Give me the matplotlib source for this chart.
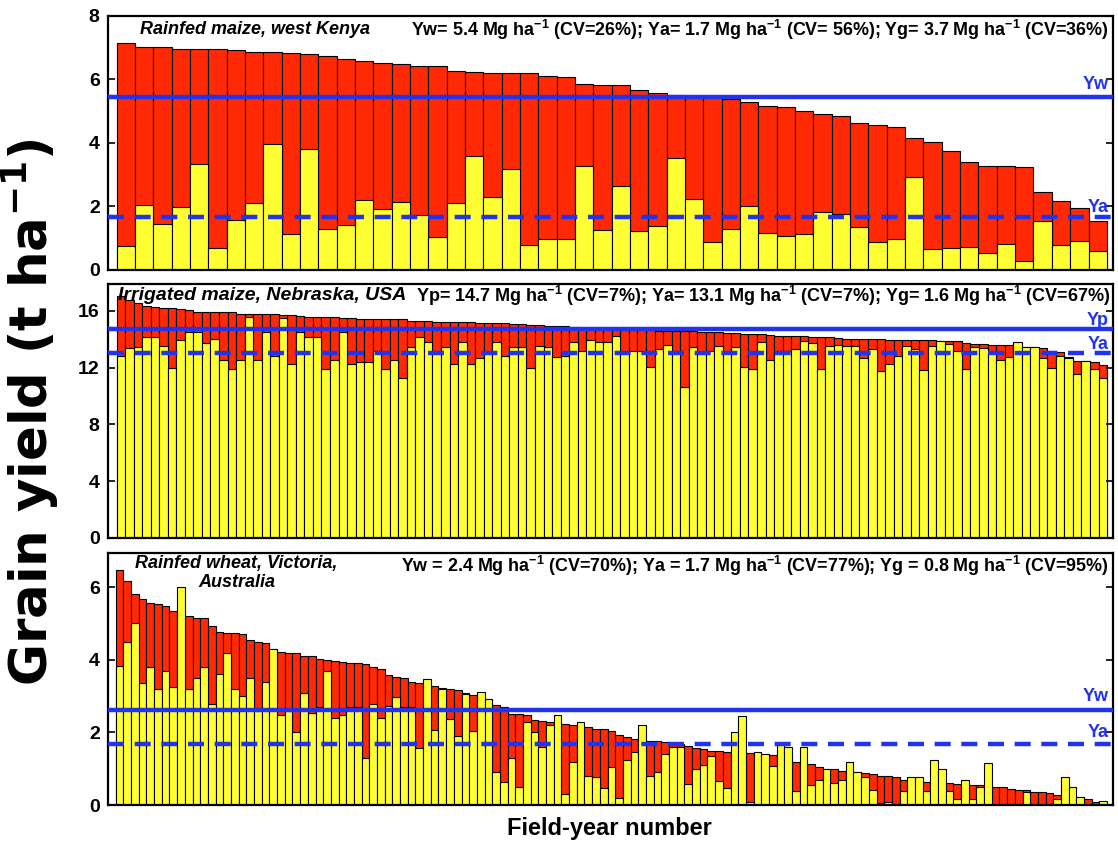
import numpy as np
import matplotlib
matplotlib.use("Agg")
import matplotlib.pyplot as plt

plt.rcParams['font.family'] = ['Liberation Sans', 'DejaVu Sans']
plt.rcParams['font.weight'] = 'bold'
plt.rcParams['mathtext.fontset'] = 'custom'
plt.rcParams['mathtext.rm'] = 'Liberation Sans:bold'
plt.rcParams['mathtext.bf'] = 'Liberation Sans:bold'
plt.rcParams['mathtext.it'] = 'Liberation Sans:bold:italic'
plt.rcParams['mathtext.default'] = 'bf'

RED = '#ff2a05'
YELLOW = '#ffff33'
BLUE = '#2233ee'

# rainfed maize, west Kenya (t/ha)
kenya_yw = [7.16, 7.03, 7.02, 6.97, 6.96, 6.95, 6.93, 6.86, 6.86, 6.83, 6.81, 6.75, 6.65, 6.58,
            6.53, 6.48, 6.43, 6.41, 6.27, 6.23, 6.21, 6.21, 6.21, 6.11, 6.07, 5.86, 5.83, 5.82,
            5.66, 5.58, 5.50, 5.47, 5.44, 5.38, 5.28, 5.18, 5.13, 5.01, 4.92, 4.85, 4.62, 4.57,
            4.51, 4.16, 4.02, 3.74, 3.40, 3.29, 3.27, 3.25, 2.45, 2.16, 1.94, 1.55]
kenya_ya = [0.76, 2.06, 1.44, 1.97, 3.35, 0.68, 1.58, 2.11, 3.98, 1.14, 3.81, 1.28, 1.41, 2.20,
            1.93, 2.14, 1.72, 1.04, 2.11, 3.58, 2.29, 3.17, 0.78, 0.99, 0.99, 3.26, 1.26, 2.63,
            1.23, 1.37, 3.54, 2.25, 0.88, 1.28, 2.03, 1.16, 1.07, 1.14, 1.83, 1.76, 1.35, 0.87,
            0.96, 2.93, 0.66, 0.69, 0.73, 0.53, 0.81, 0.29, 1.55, 0.78, 0.92, 0.61]

# irrigated maize, Nebraska
nebr_yp = [17.06, 16.78, 16.54, 16.38, 16.31, 16.24, 16.19, 16.12, 16.09, 15.95, 15.95, 15.95,
           15.95, 15.95, 15.81, 15.76, 15.76, 15.76, 15.76, 15.69, 15.69, 15.67, 15.60, 15.60,
           15.59, 15.55, 15.51, 15.51, 15.46, 15.46, 15.46, 15.46, 15.41, 15.41, 15.32, 15.27,
           15.27, 15.25, 15.25, 15.25, 15.20, 15.20, 15.18, 15.15, 15.13, 15.13, 15.08, 15.06,
           15.04, 15.01, 14.96, 14.94, 14.92, 14.87, 14.82, 14.78, 14.73, 14.71, 14.68, 14.66,
           14.66, 14.64, 14.64, 14.61, 14.61, 14.59, 14.59, 14.57, 14.54, 14.52, 14.49, 14.47,
           14.45, 14.40, 14.35, 14.35, 14.33, 14.26, 14.26, 14.26, 14.21, 14.19, 14.16, 14.14,
           14.07, 14.02, 14.02, 14.00, 14.00, 14.00, 13.98, 13.98, 13.98, 13.93, 13.93, 13.93,
           13.88, 13.86, 13.86, 13.76, 13.69, 13.65, 13.60, 13.58, 13.58, 13.53, 13.46, 13.44,
           13.36, 13.20, 13.13, 12.75, 12.49, 12.47, 12.42, 12.16]
nebr_ya = [12.85, 13.41, 13.46, 14.14, 14.14, 13.55, 11.95, 13.95, 14.54, 14.54, 13.72, 14.02,
           12.52, 11.88, 12.52, 15.60, 12.52, 14.54, 12.85, 15.48, 12.24, 14.54, 14.14, 14.14,
           11.88, 12.52, 14.54, 12.24, 12.42, 12.42, 13.20, 11.88, 12.52, 11.25, 13.46, 14.14,
           13.79, 12.99, 13.46, 12.24, 13.79, 12.28, 12.66, 12.94, 13.79, 12.82, 13.46, 13.46,
           11.95, 13.55, 13.46, 12.78, 12.82, 13.84, 13.20, 13.95, 13.79, 13.79, 14.26, 13.20,
           13.15, 13.20, 12.02, 13.29, 13.58, 13.20, 10.64, 13.46, 12.99, 13.20, 13.51, 13.06,
           13.46, 12.02, 11.88, 13.84, 12.52, 13.20, 13.20, 13.29, 13.88, 13.76, 11.88, 13.51,
           13.58, 13.51, 13.51, 12.66, 13.29, 11.76, 12.28, 12.85, 13.51, 13.29, 11.81, 13.51,
           13.88, 13.65, 13.20, 11.88, 13.46, 13.36, 13.06, 12.52, 12.78, 13.79, 13.46, 13.44,
           12.71, 11.95, 12.85, 12.71, 11.58, 12.47, 11.88, 11.25]

# rainfed wheat, Victoria
vic_yw = [6.47, 6.17, 5.82, 5.67, 5.56, 5.55, 5.48, 5.34, 5.30, 5.21, 5.17, 5.17, 4.93, 4.76,
          4.75, 4.74, 4.72, 4.56, 4.49, 4.47, 4.30, 4.21, 4.19, 4.18, 4.11, 4.10, 4.02, 4.00,
          3.97, 3.94, 3.91, 3.91, 3.90, 3.82, 3.75, 3.58, 3.52, 3.51, 3.40, 3.36, 3.33, 3.29,
          3.22, 3.20, 3.16, 3.10, 3.03, 3.00, 2.90, 2.77, 2.69, 2.50, 2.50, 2.47, 2.35, 2.32,
          2.30, 2.28, 2.24, 2.22, 2.18, 2.14, 2.11, 2.09, 2.05, 1.94, 1.87, 1.83, 1.80, 1.77,
          1.77, 1.75, 1.70, 1.68, 1.64, 1.56, 1.54, 1.49, 1.48, 1.47, 1.46, 1.45, 1.43, 1.42,
          1.41, 1.38, 1.37, 1.36, 1.19, 1.18, 1.14, 1.04, 0.98, 0.98, 0.93, 0.92, 0.90, 0.87,
          0.86, 0.81, 0.80, 0.76, 0.70, 0.70, 0.70, 0.63, 0.62, 0.62, 0.60, 0.59, 0.58, 0.56,
          0.56, 0.55, 0.51, 0.51, 0.44, 0.42, 0.42, 0.35, 0.35, 0.32, 0.28, 0.27, 0.26, 0.21,
          0.17, 0.07, 0.06]
vic_ya = [3.84, 4.51, 5.01, 3.36, 3.80, 3.19, 3.70, 3.25, 6.00, 3.20, 3.49, 3.80, 2.79, 3.60,
          4.19, 3.19, 3.00, 3.49, 2.60, 3.38, 4.29, 2.48, 2.60, 2.00, 3.10, 2.53, 2.69, 3.70,
          2.39, 2.48, 2.71, 2.71, 1.29, 2.78, 2.39, 2.74, 2.99, 2.71, 2.69, 1.58, 3.48, 2.06,
          3.20, 2.37, 1.90, 3.05, 2.05, 3.11, 2.93, 0.90, 0.63, 1.29, 0.49, 2.29, 2.00, 1.59,
          2.20, 2.49, 0.29, 1.19, 2.30, 0.81, 0.78, 0.48, 1.04, 0.18, 1.24, 1.47, 2.20, 0.79,
          0.90, 1.40, 1.59, 1.59, 0.59, 0.98, 1.09, 1.34, 0.65, 0.46, 2.00, 2.46, 0.09, 1.47,
          1.42, 1.08, 1.69, 1.59, 0.39, 1.59, 0.55, 0.68, 0.98, 0.60, 0.70, 1.20, 0.90, 0.78,
          0.42, 0.05, 0.09, 0.00, 0.38, 0.78, 0.78, 0.38, 1.24, 0.99, 0.38, 0.17, 0.69, 0.17,
          0.51, 1.16, 0.00, 0.00, 0.00, 0.00, 0.37, 0.00, 0.00, 0.00, 0.17, 0.78, 0.49, 0.22,
          0.00, 0.00, 0.11]

# mean lines drawn across each panel
kenya_lines = [5.46, 1.67]
nebr_lines = [14.7, 13.0]
vic_lines = [2.63, 1.68]

kenya_title = 'Rainfed maize, west Kenya'
kenya_stats = ('Yw= 5.4 Mg ha$^{-1}$ (CV=26%); Ya= 1.7 Mg ha$^{-1}$ (CV= 56%); '
               'Yg= 3.7 Mg ha$^{-1}$ (CV=36%)')
nebr_title = 'Irrigated maize, Nebraska, USA'
nebr_stats = ('Yp= 14.7 Mg ha$^{-1}$ (CV=7%); Ya= 13.1 Mg ha$^{-1}$ (CV=7%); '
              'Yg= 1.6 Mg ha$^{-1}$ (CV=67%)')
vic_title = 'Rainfed wheat, Victoria,\nAustralia'
vic_stats = ('Yw = 2.4 Mg ha$^{-1}$ (CV=70%); Ya = 1.7 Mg ha$^{-1}$ (CV=77%); '
             'Yg = 0.8 Mg ha$^{-1}$ (CV=95%)')


def draw_panel(ax, top, base, lines, labels, label_y, yticks, ylim, xgap):
    n = len(top)
    x = np.arange(n)
    ax.bar(x, top, width=1.0, align='edge', color=RED, edgecolor='black', linewidth=0.8)
    ax.bar(x, base, width=1.0, align='edge', color=YELLOW, edgecolor='black', linewidth=0.8)
    ax.axhline(lines[0], color=BLUE, lw=3.2, zorder=5)
    ax.axhline(lines[1], color=BLUE, lw=3.2, dashes=(3.6, 2.4), zorder=5)
    tr = ax.get_yaxis_transform()
    for lab, yy in zip(labels, label_y):
        ax.text(0.996, yy, lab, color=BLUE, fontsize=13, fontweight='bold',
                ha='right', va='center', transform=tr, zorder=6)
    ax.set_xlim(-xgap[0], n + xgap[1])
    ax.set_ylim(*ylim)
    ax.set_yticks(yticks)
    ax.set_xticks([])
    ax.tick_params(axis='y', direction='in', length=5, width=1.2, right=True,
                   labelsize=14, pad=6)
    for lab in ax.get_yticklabels():
        lab.set_fontweight('bold')
    for s in ax.spines.values():
        s.set_linewidth(1.6)


fig = plt.figure(figsize=(11.18, 8.41), dpi=100)
ax1 = fig.add_axes([0.0966, 0.679, 0.899, 0.302])
ax2 = fig.add_axes([0.0966, 0.3606, 0.899, 0.3017])
ax3 = fig.add_axes([0.0966, 0.0428, 0.899, 0.2996])

draw_panel(ax1, kenya_yw, kenya_ya, kenya_lines, ['Yw', 'Ya'], [5.84, 1.96],
           [0, 2, 4, 6, 8], (0, 8), (0.47, 0.34))
draw_panel(ax2, nebr_yp, nebr_ya, nebr_lines, ['Yp', 'Ya'], [15.36, 13.6],
           [0, 4, 8, 12, 16], (0, 17.9), (1.0, 0.7))
draw_panel(ax3, vic_yw, vic_ya, vic_lines, ['Yw', 'Ya'], [2.98, 1.99],
           [0, 2, 4, 6], (0, 6.95), (1.0, 0.78))

ax1.text(0.032, 0.945, kenya_title, transform=ax1.transAxes, fontsize=13,
         fontweight='bold', style='italic', ha='left', va='center')
ax1.text(0.995, 0.945, kenya_stats, transform=ax1.transAxes, fontsize=12.9,
         fontweight='bold', ha='right', va='center')
ax2.text(0.01, 0.953, nebr_title, transform=ax2.transAxes, fontsize=14,
         fontweight='bold', style='italic', ha='left', va='center', zorder=7)
ax2.text(0.997, 0.953, nebr_stats, transform=ax2.transAxes, fontsize=13,
         fontweight='bold', ha='right', va='center', zorder=7)
ax3.text(0.128, 0.92, vic_title, transform=ax3.transAxes, fontsize=13,
         fontweight='bold', style='italic', ha='center', va='center',
         multialignment='center', linespacing=1.2, zorder=7)
ax3.text(0.995, 0.948, vic_stats, transform=ax3.transAxes, fontsize=12.9,
         fontweight='bold', ha='right', va='center')

fig.text(0.027, 0.51, 'Grain yield (t ha$^{-1}$)', rotation=90, fontsize=37,
         fontweight='bold', family=['DejaVu Sans'], ha='center', va='center',
         math_fontfamily='dejavusans')
fig.text(0.545, 0.0143, 'Field-year number', fontsize=17, fontweight='bold',
         ha='center', va='center')

fig.savefig('out.png', dpi=100)
